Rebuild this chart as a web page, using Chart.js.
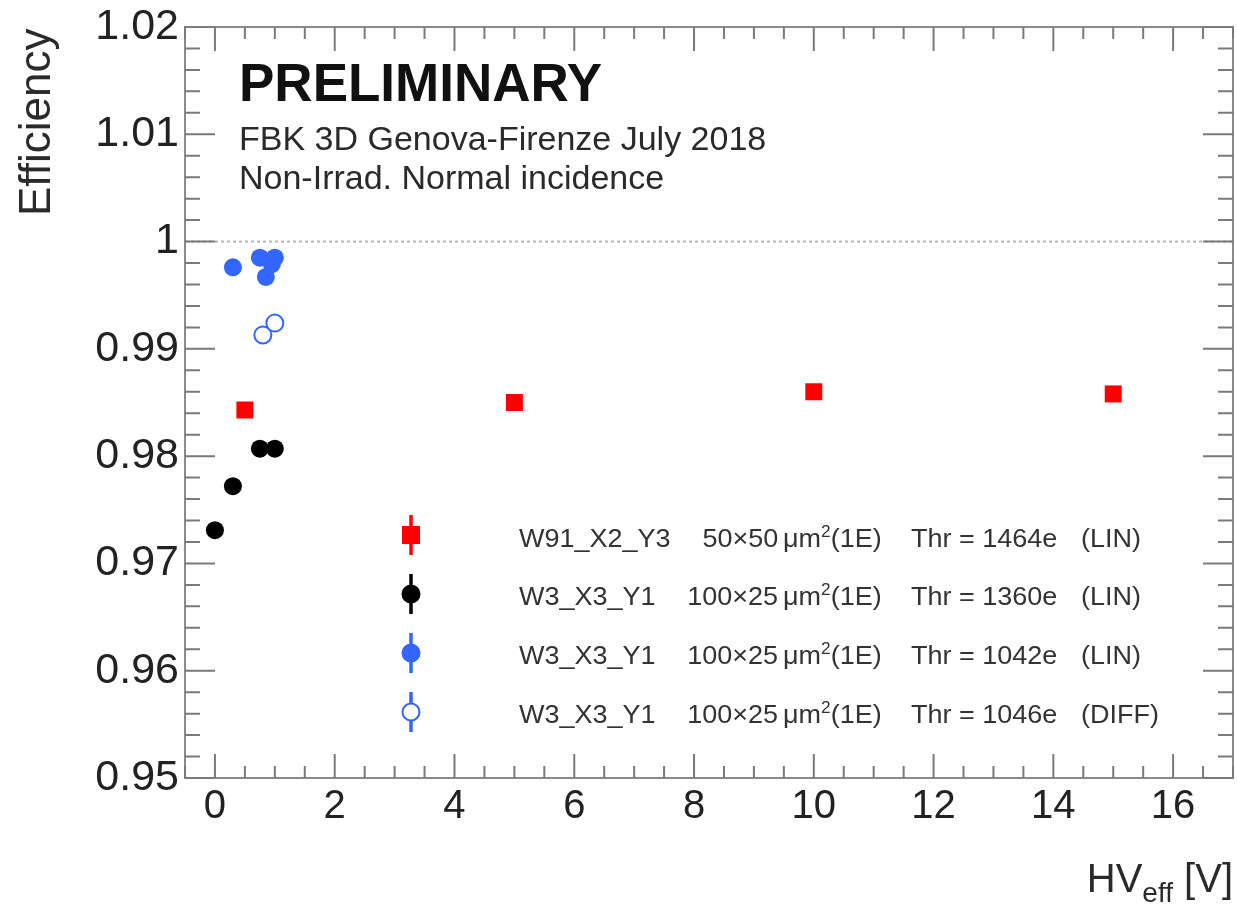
<!DOCTYPE html>
<html>
<head>
<meta charset="utf-8">
<script src="https://cdn.jsdelivr.net/npm/chart.js@4.4.1/dist/chart.umd.min.js"></script>
<style>
    body { margin: 0; background: #fff; }
    #wrap { position: relative; width: 1237px; height: 908px; font-family: "Liberation Sans", Arial, sans-serif; }
    #wrap canvas { position: absolute; left: 0; top: 0; }
    .txt { position: absolute; line-height: 1; white-space: nowrap; color: #2a2a2a; }
    .leg { position: absolute; line-height: 1; white-space: nowrap; color: #333; font-size: 25px; transform: scaleX(1.08); }
    .sup { position: relative; top: -10px; font-size: 16px; }
</style>
</head>
<body>
<div id="wrap">
    <canvas id="chart" width="1237" height="908"></canvas>
    <div class="txt" style="left:239px; top:56px; font-size:53px; font-weight:bold; color:#111;">PRELIMINARY</div>
    <div class="txt" style="left:239px; top:121px; font-size:34px;">FBK 3D Genova-Firenze July 2018</div>
    <div class="txt" style="left:239px; top:160px; font-size:34px;">Non-Irrad. Normal incidence</div>
    <div class="txt" style="left:13px; top:216px; font-size:44px; transform-origin:left top; transform:rotate(-90deg);">Efficiency</div>
    <div class="txt" style="right:4px; top:858px; font-size:40px;">HV<span style="position:relative; top:10px; font-size:28px;">eff</span> [V]</div>
    <div id="legend"></div>
</div>

<script>
// ================================
// HV_eff vs Efficiency (FBK 3D sensors)
// ================================

// Axis ticks
const xTicks = [0, 2, 4, 6, 8, 10, 12, 14, 16];
const yTicks = [0.95, 0.96, 0.97, 0.98, 0.99, 1.00, 1.01, 1.02];
const yTickLabels = ['0.95', '0.96', '0.97', '0.98', '0.99', '1', '1.01', '1.02'];

// W91_X2_Y3 50x50 (LIN)
const redX = [0.5, 5, 10, 15];
const redY = [0.9843, 0.9850, 0.9860, 0.9858];

// W3_X3_Y1 100x25 Thr 1360e (LIN)
const blackX = [0, 0.3, 0.75, 1.0];
const blackY = [0.9731, 0.9772, 0.9807, 0.9807];

// W3_X3_Y1 100x25 Thr 1042e (LIN)
const blueX = [0.3, 0.75, 0.85, 0.95, 1.0];
const blueY = [0.9976, 0.9985, 0.9967, 0.9979, 0.9985];

// W3_X3_Y1 100x25 Thr 1046e (DIFF)
const openX = [0.8, 1.0];
const openY = [0.9913, 0.9924];

// Legend texts
const legendNames = ['W91_X2_Y3', 'W3_X3_Y1', 'W3_X3_Y1', 'W3_X3_Y1'];
const legendSizes = ['50×50', '100×25', '100×25', '100×25'];
const legendThr = ['Thr = 1464e', 'Thr = 1360e', 'Thr = 1042e', 'Thr = 1046e'];
const legendFE = ['(LIN)', '(LIN)', '(LIN)', '(DIFF)'];

const RED = '#ff0000';
const BLACK = '#000000';
const BLUE = '#3366ff';

function toPoints(xs, ys) {
    return xs.map((x, i) => ({ x: x, y: ys[i] }));
}

// Legend text rows
function buildLegend() {
    const box = document.getElementById('legend');
    const base = [547, 605, 664, 723];
    box.innerHTML = legendNames.map((name, i) => {
        const top = base[i] - 21;
        return `
            <div class="leg" style="left:519px; top:${top}px; transform-origin:left top;">${name}</div>
            <div class="leg" style="right:${1237 - 778}px; top:${top}px; transform-origin:right top;">${legendSizes[i]}</div>
            <div class="leg" style="left:783px; top:${top}px; transform-origin:left top;">μm<span class="sup">2</span>(1E)</div>
            <div class="leg" style="left:911px; top:${top}px; transform-origin:left top;">${legendThr[i]}</div>
            <div class="leg" style="left:1081px; top:${top}px; transform-origin:left top;">${legendFE[i]}</div>
        `;
    }).join('');
}

// Frame, ROOT-style inner ticks, dotted line at 1 and legend markers
const frameTicks = {
    id: 'frameTicks',
    beforeDatasetsDraw(chart) {
        const { ctx, chartArea: a } = chart;
        const ys = chart.scales.y;
        ctx.save();
        ctx.strokeStyle = '#b5b5b5';
        ctx.lineWidth = 2;
        ctx.setLineDash([3, 3]);
        const y1 = ys.getPixelForValue(1.0);
        ctx.beginPath();
        ctx.moveTo(a.left, y1);
        ctx.lineTo(a.right, y1);
        ctx.stroke();
        ctx.restore();
    },
    afterDatasetsDraw(chart) {
        const { ctx, chartArea: a } = chart;
        const xs = chart.scales.x;
        const ys = chart.scales.y;
        ctx.save();
        ctx.strokeStyle = '#8a8a8a';
        ctx.lineWidth = 2;
        ctx.strokeRect(a.left, a.top, a.right - a.left, a.bottom - a.top);

        ctx.strokeStyle = '#7a7a7a';
        ctx.beginPath();
        // x ticks every 0.5, major every 2
        for (let k = -1; k <= 34; k++) {
            const v = k * 0.5;
            if (v < xs.min || v > xs.max) continue;
            const px = xs.getPixelForValue(v);
            const len = (k % 4 === 0) ? 24 : 12;
            ctx.moveTo(px, a.bottom);
            ctx.lineTo(px, a.bottom - len);
            ctx.moveTo(px, a.top);
            ctx.lineTo(px, a.top + len);
        }
        // y ticks every 0.002, major every 0.01
        for (let k = 0; k <= 35; k++) {
            const v = 0.95 + k * 0.002;
            const py = ys.getPixelForValue(v);
            const len = (k % 5 === 0) ? 30 : 15;
            ctx.moveTo(a.left, py);
            ctx.lineTo(a.left + len, py);
            ctx.moveTo(a.right, py);
            ctx.lineTo(a.right - len, py);
        }
        ctx.stroke();

        // legend markers
        const mx = 411;
        const rows = [535, 594, 653, 712];
        const styles = [
            { color: RED, shape: 'rect', fill: RED },
            { color: BLACK, shape: 'circle', fill: BLACK },
            { color: BLUE, shape: 'circle', fill: BLUE },
            { color: BLUE, shape: 'circle', fill: '#ffffff' }
        ];
        styles.forEach((s, i) => {
            const cy = rows[i];
            ctx.strokeStyle = s.color;
            ctx.lineWidth = 3.5;
            ctx.beginPath();
            ctx.moveTo(mx, cy - 20);
            ctx.lineTo(mx, cy + 20);
            ctx.stroke();
            ctx.fillStyle = s.fill;
            ctx.beginPath();
            if (s.shape === 'rect') {
                ctx.rect(mx - 9, cy - 9, 18, 18);
                ctx.fill();
            } else {
                ctx.arc(mx, cy, 8.5, 0, Math.PI * 2);
                ctx.fill();
                ctx.lineWidth = 2;
                ctx.stroke();
            }
        });
        ctx.restore();
    }
};

document.addEventListener('DOMContentLoaded', () => {
    buildLegend();

    new Chart(document.getElementById('chart').getContext('2d'), {
        type: 'scatter',
        data: {
            datasets: [
                {
                    label: 'W91_X2_Y3 (LIN)',
                    data: toPoints(redX, redY),
                    pointStyle: 'rect',
                    pointRadius: 12,
                    backgroundColor: RED,
                    borderWidth: 0
                },
                {
                    label: 'W3_X3_Y1 1360e (LIN)',
                    data: toPoints(blackX, blackY),
                    pointStyle: 'circle',
                    pointRadius: 9,
                    backgroundColor: BLACK,
                    borderWidth: 0
                },
                {
                    label: 'W3_X3_Y1 1042e (LIN)',
                    data: toPoints(blueX, blueY),
                    pointStyle: 'circle',
                    pointRadius: 9,
                    backgroundColor: BLUE,
                    borderWidth: 0
                },
                {
                    label: 'W3_X3_Y1 1046e (DIFF)',
                    data: toPoints(openX, openY),
                    pointStyle: 'circle',
                    pointRadius: 8.5,
                    backgroundColor: '#ffffff',
                    borderColor: BLUE,
                    borderWidth: 2
                }
            ]
        },
        options: {
            responsive: false,
            animation: false,
            devicePixelRatio: 1,
            layout: { autoPadding: false, padding: { left: 0, top: 27, right: 4, bottom: 0 } },
            plugins: {
                legend: { display: false },
                tooltip: { enabled: false }
            },
            scales: {
                x: {
                    type: 'linear',
                    min: -0.5,
                    max: 17,
                    grid: { display: false, drawTicks: false, tickLength: 0 },
                    border: { display: false },
                    afterBuildTicks: (scale) => { scale.ticks = xTicks.map(v => ({ value: v })); },
                    afterFit: (scale) => {
                        scale.height = 130;
                        scale.paddingLeft = 0;
                        scale.paddingRight = 0;
                    },
                    ticks: {
                        padding: 5,
                        color: '#222',
                        font: { family: 'Liberation Sans', size: 40 },
                        maxRotation: 0,
                        callback: (v) => String(v)
                    }
                },
                y: {
                    type: 'linear',
                    min: 0.95,
                    max: 1.02,
                    grid: { display: false, drawTicks: false, tickLength: 0 },
                    border: { display: false },
                    afterBuildTicks: (scale) => { scale.ticks = yTicks.map(v => ({ value: v })); },
                    afterFit: (scale) => {
                        scale.width = 185;
                        scale.paddingTop = 0;
                        scale.paddingBottom = 0;
                    },
                    ticks: {
                        padding: 6,
                        color: '#222',
                        font: { family: 'Liberation Sans', size: 43 },
                        callback: (v) => {
                            const i = yTicks.findIndex(t => Math.abs(t - v) < 1e-9);
                            return i >= 0 ? yTickLabels[i] : '';
                        }
                    }
                }
            }
        },
        plugins: [frameTicks]
    });
});
</script>
</body>
</html>
